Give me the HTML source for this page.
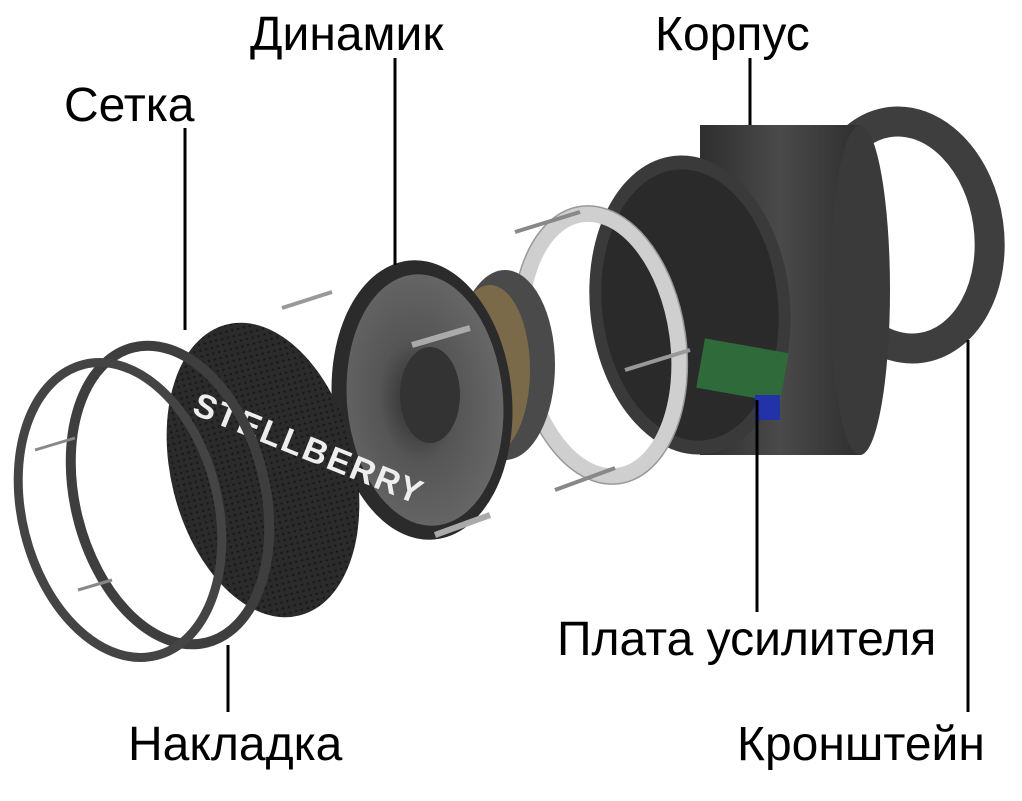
<!DOCTYPE html>
<html><head><meta charset="utf-8"><style>
html,body{margin:0;padding:0;background:#fff;}
svg{display:block;}
text{font-family:"Liberation Sans",sans-serif;font-size:48px;fill:#000;}
</style></head><body>
<svg width="1022" height="801" viewBox="0 0 1022 801" xmlns="http://www.w3.org/2000/svg">
<defs>
<pattern id="mesh" width="6" height="6" patternUnits="userSpaceOnUse">
<rect width="6" height="6" fill="#2b2b2b"/><circle cx="3" cy="3" r="1.3" fill="#1a1a1a"/>
</pattern>
<linearGradient id="body" x1="0" x2="1" y1="0" y2="0">
<stop offset="0" stop-color="#2e2e2e"/><stop offset="0.5" stop-color="#4a4a4a"/><stop offset="1" stop-color="#2f2f2f"/>
</linearGradient>
<radialGradient id="cone" cx="0.45" cy="0.5" r="0.6">
<stop offset="0" stop-color="#2a2a2a"/><stop offset="0.4" stop-color="#555"/><stop offset="1" stop-color="#6a6a6a"/>
</radialGradient>
</defs>

<!-- Bracket -->
<g transform="rotate(-8 905 235)">
<ellipse cx="905" cy="235" rx="84" ry="114" fill="none" stroke="#3e3e3e" stroke-width="30"/>
</g>

<!-- Housing -->
<rect x="700" y="125" width="160" height="330" fill="url(#body)"/>
<ellipse cx="860" cy="290" rx="30" ry="165" fill="#3a3a3a"/>
<ellipse cx="690" cy="305" rx="100" ry="150" fill="#3a3a3a" transform="rotate(-6 690 305)"/>
<ellipse cx="690" cy="305" rx="88" ry="136" fill="#2a2a2a" transform="rotate(-6 690 305)"/>
<rect x="700" y="345" width="85" height="50" fill="#2f6b3a" transform="rotate(10 740 370)"/>
<rect x="755" y="395" width="25" height="25" fill="#2233aa"/>

<!-- Clear ring -->
<ellipse cx="600" cy="345" rx="78" ry="132" fill="none" stroke="#cfcfcf" stroke-width="16" transform="rotate(-8 600 345)"/>
<ellipse cx="600" cy="345" rx="86" ry="140" fill="none" stroke="#999" stroke-width="1.5" transform="rotate(-8 600 345)"/>
<line x1="515" y1="232" x2="580" y2="212" stroke="#888" stroke-width="4"/>
<line x1="555" y1="490" x2="615" y2="468" stroke="#888" stroke-width="4"/>
<line x1="625" y1="370" x2="690" y2="350" stroke="#999" stroke-width="4"/>

<!-- Speaker magnet -->
<ellipse cx="505" cy="365" rx="50" ry="95" fill="#4a4a4a"/>
<ellipse cx="490" cy="370" rx="40" ry="85" fill="#7a6a4a"/>
<!-- Speaker basket -->
<ellipse cx="422" cy="400" rx="90" ry="140" fill="#2b2b2b" transform="rotate(-5 422 400)"/>
<ellipse cx="425" cy="400" rx="78" ry="126" fill="url(#cone)" transform="rotate(-5 425 400)"/>
<ellipse cx="430" cy="395" rx="30" ry="48" fill="#333"/>
<line x1="282" y1="308" x2="332" y2="292" stroke="#999" stroke-width="4"/>
<line x1="412" y1="345" x2="470" y2="328" stroke="#aaa" stroke-width="6"/>
<line x1="435" y1="535" x2="490" y2="515" stroke="#aaa" stroke-width="6"/>

<!-- Grille -->
<ellipse cx="263" cy="470" rx="92" ry="150" fill="url(#mesh)" transform="rotate(-14 263 470)"/>
<text x="172" y="440" transform="rotate(22 250 475)" style="font-size:34px;font-weight:bold;fill:#eee;letter-spacing:2px">STELLBERRY</text>

<!-- Rings -->
<ellipse cx="170" cy="495" rx="95" ry="152" fill="none" stroke="#3e3e3e" stroke-width="10" transform="rotate(-14 170 495)"/>
<ellipse cx="120" cy="510" rx="98" ry="150" fill="none" stroke="#444" stroke-width="9" transform="rotate(-14 120 510)"/>
<line x1="35" y1="450" x2="75" y2="438" stroke="#888" stroke-width="3"/>
<line x1="78" y1="590" x2="112" y2="580" stroke="#888" stroke-width="3"/>

<!-- Leader lines -->
<g stroke="#000" stroke-width="3">
<line x1="185" y1="128" x2="185" y2="330"/>
<line x1="395" y1="58" x2="395" y2="265"/>
<line x1="750" y1="58" x2="750" y2="125"/>
<line x1="757" y1="400" x2="757" y2="612"/>
<line x1="228" y1="645" x2="228" y2="712"/>
<line x1="968" y1="340" x2="968" y2="712"/>
</g>

<!-- Labels -->
<text x="64" y="121">Сетка</text>
<text x="250" y="50">Динамик</text>
<text x="655" y="50">Корпус</text>
<text x="557" y="655">Плата усилителя</text>
<text x="128" y="760">Накладка</text>
<text x="737" y="760">Кронштейн</text>
</svg>
</body></html>
